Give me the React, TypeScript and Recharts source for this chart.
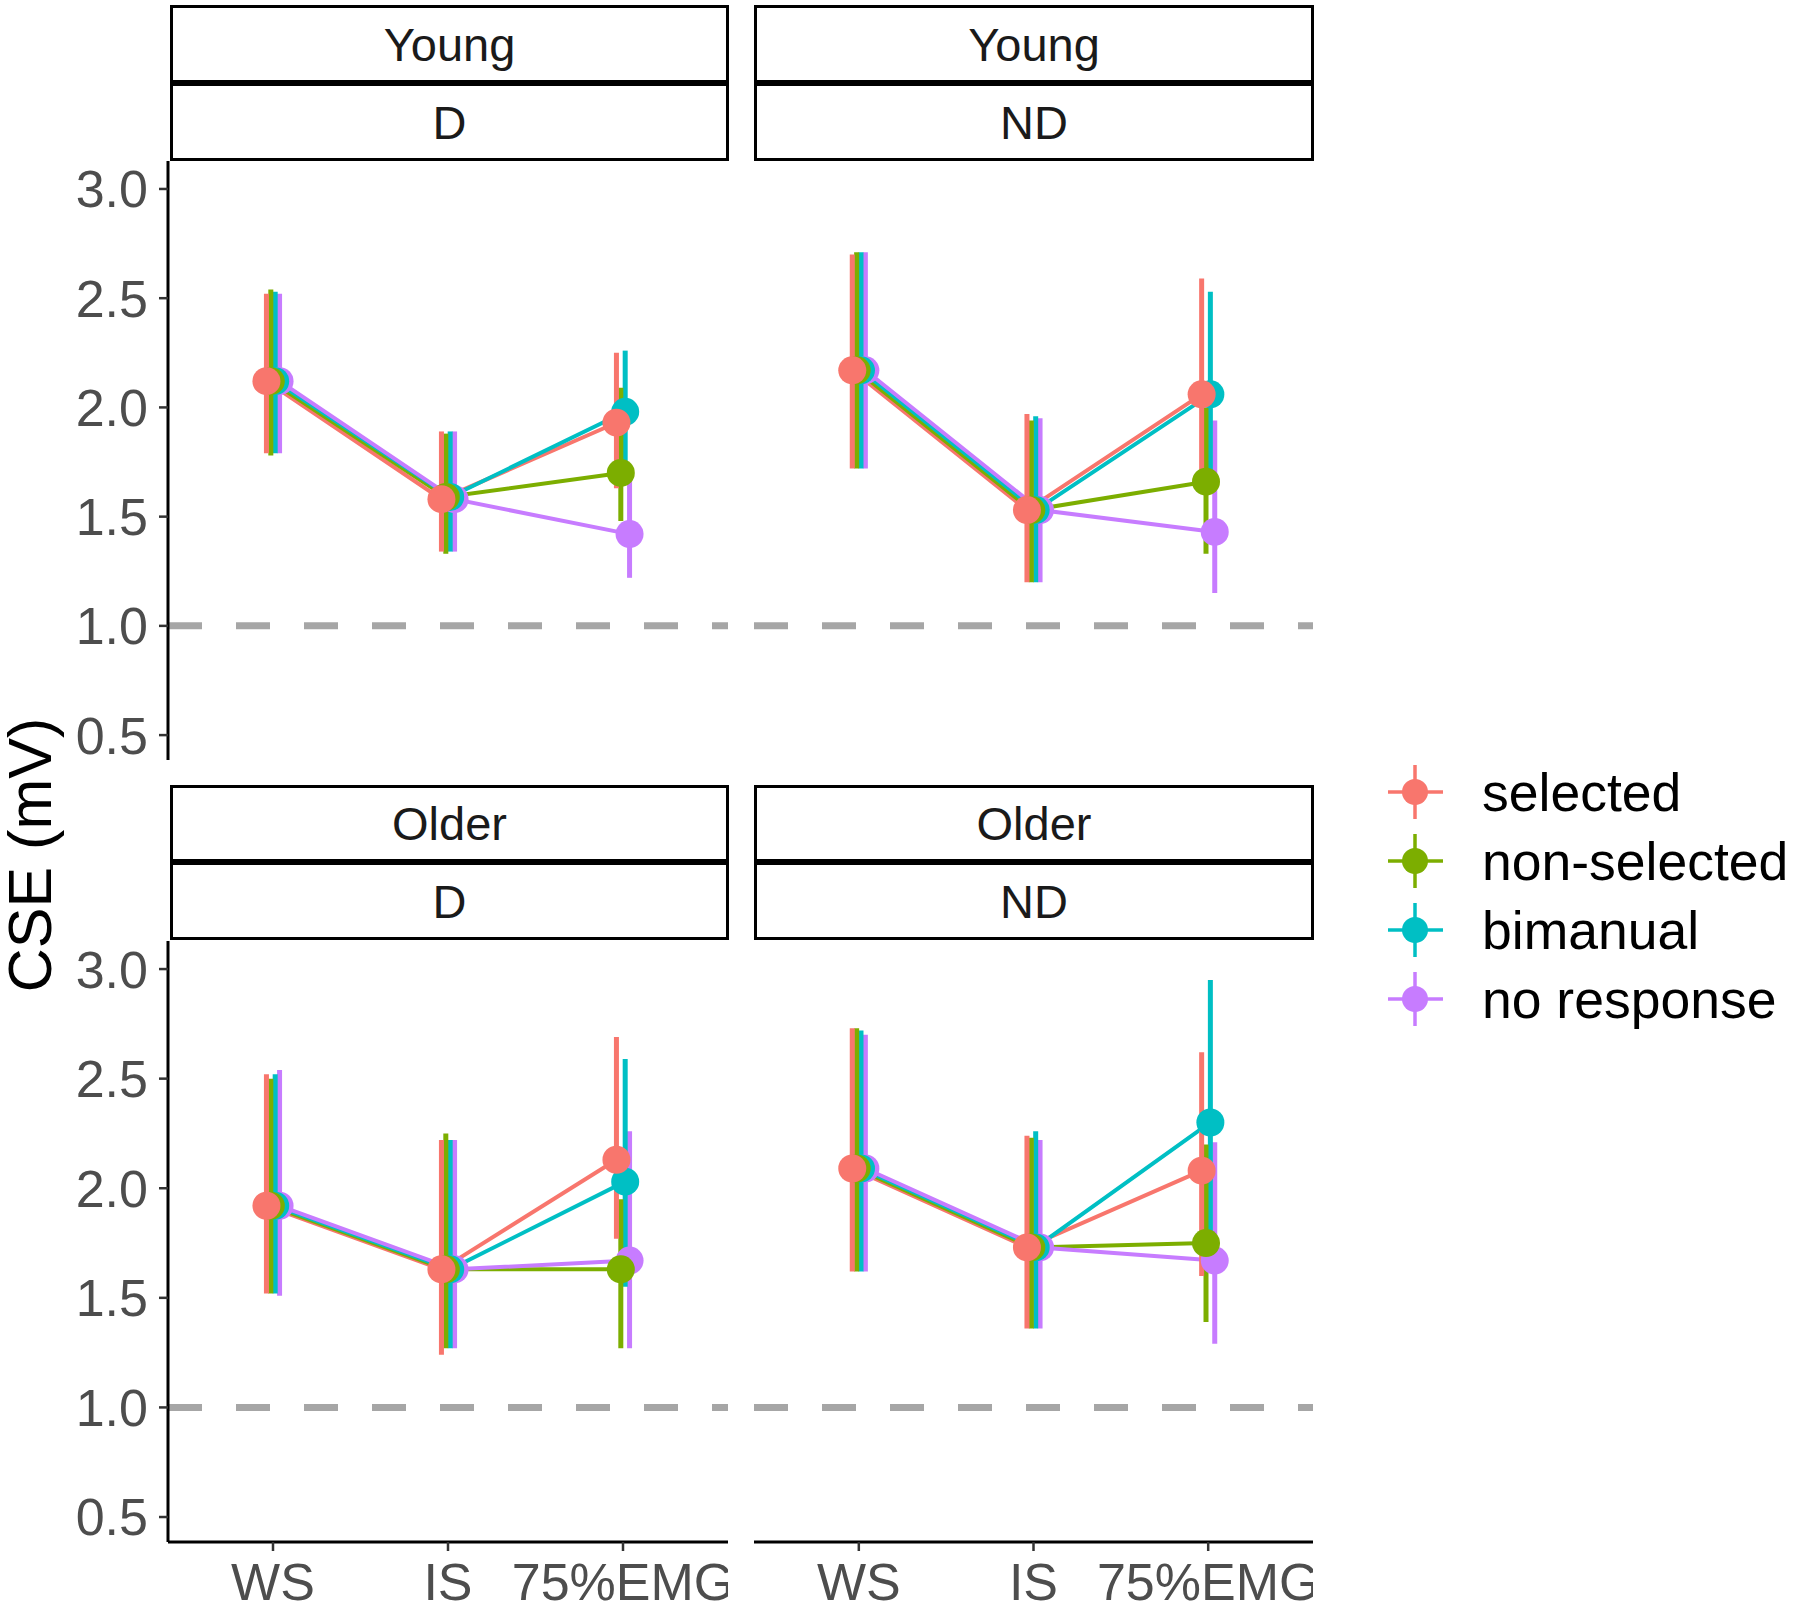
import { LineChart, Line, XAxis, YAxis, ErrorBar, ReferenceLine } from 'recharts';

const conditions = ['WS', 'IS', '75%EMG'];
const responseTypes = ['selected', 'non-selected', 'bimanual', 'no response'];
const responseColors = ['#F8766D', '#7CAE00', '#00BFC4', '#C77CFF'];
const yTicks = [0.5, 1.0, 1.5, 2.0, 2.5, 3.0];

// rows: selected, non-selected, bimanual, no response; columns: WS, IS, 75%EMG
const youngDMean = [[2.12, 1.58, 1.93], [2.12, 1.59, 1.70], [2.12, 1.59, 1.98], [2.12, 1.58, 1.42]];
const youngDLower = [[1.79, 1.34, 1.63], [1.78, 1.33, 1.48], [1.79, 1.34, 1.72], [1.79, 1.34, 1.22]];
const youngDUpper = [[2.52, 1.89, 2.25], [2.54, 1.88, 2.09], [2.53, 1.89, 2.26], [2.52, 1.89, 1.67]];

const youngNDMean = [[2.17, 1.53, 2.06], [2.17, 1.53, 1.66], [2.17, 1.53, 2.06], [2.17, 1.53, 1.43]];
const youngNDLower = [[1.72, 1.20, 1.65], [1.72, 1.20, 1.33], [1.72, 1.20, 1.62], [1.72, 1.20, 1.15]];
const youngNDUpper = [[2.70, 1.97, 2.59], [2.71, 1.94, 2.00], [2.71, 1.96, 2.53], [2.71, 1.95, 1.94]];

const olderDMean = [[1.92, 1.63, 2.13], [1.92, 1.63, 1.63], [1.92, 1.63, 2.03], [1.92, 1.63, 1.67]];
const olderDLower = [[1.52, 1.24, 1.77], [1.52, 1.27, 1.27], [1.52, 1.27, 1.55], [1.51, 1.27, 1.27]];
const olderDUpper = [[2.52, 2.22, 2.69], [2.50, 2.25, 1.95], [2.52, 2.22, 2.59], [2.54, 2.22, 2.26]];

const olderNDMean = [[2.09, 1.73, 2.08], [2.09, 1.73, 1.75], [2.09, 1.73, 2.30], [2.09, 1.73, 1.67]];
const olderNDLower = [[1.62, 1.36, 1.60], [1.62, 1.36, 1.39], [1.62, 1.36, 1.70], [1.62, 1.36, 1.29]];
const olderNDUpper = [[2.73, 2.24, 2.62], [2.73, 2.23, 2.20], [2.72, 2.26, 2.95], [2.70, 2.22, 2.21]];

const FONT = '"Liberation Sans", Arial, sans-serif';
const dodge = [-0.0375, -0.0125, 0.0125, 0.0375];

const buildSeries = (mean: number[][], lower: number[][], upper: number[][]) =>
  responseTypes.map((name, s) => ({
    name,
    color: responseColors[s],
    data: conditions.map((_, i) => ({
      x: i + 1 + dodge[s],
      y: mean[s][i],
      err: [mean[s][i] - lower[s][i], upper[s][i] - mean[s][i]],
    })),
  }));

type PanelProps = {
  mean: number[][];
  lower: number[][];
  upper: number[][];
  left: number;
  top: number;
  width: number;
  height: number;
  showX: boolean;
  showY: boolean;
};

const Panel = ({ mean, lower, upper, left, top, width, height, showX, showY }: PanelProps) => {
  const series = buildSeries(mean, lower, upper);
  // lines: purple ends up on top; points: red ends up on top (as in the original)
  const reversed = [...series].reverse();
  return (
    <div style={{ position: 'absolute', left, top }}>
      <LineChart
        width={width}
        height={showX ? height : height + 24}
        margin={{ top: 0, right: 0, bottom: showX ? 0 : 24, left: 0 }}
      >
        <XAxis
          type="number"
          dataKey="x"
          domain={[0.4, 3.6]}
          ticks={[1, 2, 3]}
          allowDataOverflow
          tickFormatter={(v) => conditions[Math.round(v) - 1]}
          hide={!showX}
          height={64}
          axisLine={{ stroke: '#000', strokeWidth: 3 }}
          tickLine={{ stroke: '#333', strokeWidth: 2.5 }}
          tickSize={9}
          tickMargin={12}
          tick={{ fill: '#4D4D4D', fontSize: 52, fontFamily: FONT }}
          interval={0}
        />
        <YAxis
          type="number"
          domain={[0.386, 3.128]}
          ticks={yTicks}
          allowDataOverflow
          tickFormatter={(v) => v.toFixed(1)}
          hide={!showY}
          width={168}
          axisLine={{ stroke: '#000', strokeWidth: 3 }}
          tickLine={{ stroke: '#333', strokeWidth: 2.5 }}
          tickSize={9}
          tickMargin={11}
          tick={{ fill: '#4D4D4D', fontSize: 52, fontFamily: FONT }}
          interval={0}
        />
        <ReferenceLine y={1} stroke="#A6A6A6" strokeWidth={7} strokeDasharray="34 34" />
        {series.map((s) => (
          <Line
            key={'line-' + s.name}
            data={s.data}
            dataKey="y"
            type="linear"
            stroke={s.color}
            strokeWidth={4}
            dot={false}
            activeDot={false}
            isAnimationActive={false}
          />
        ))}
        {reversed.map((s) => (
          <Line
            key={'pt-' + s.name}
            data={s.data}
            dataKey="y"
            type="linear"
            stroke="none"
            strokeWidth={0}
            dot={{ r: 14, fill: s.color, stroke: 'none' }}
            activeDot={false}
            isAnimationActive={false}
          >
            <ErrorBar dataKey="err" width={0} stroke={s.color} strokeWidth={5} direction="y" />
          </Line>
        ))}
      </LineChart>
    </div>
  );
};

const Strip = ({ left, top, width, height, label }: { left: number; top: number; width: number; height: number; label: string }) => (
  <div
    style={{
      position: 'absolute',
      left,
      top,
      width: width - 6,
      height: height - 6,
      border: '3px solid #000',
      background: '#fff',
      display: 'flex',
      alignItems: 'center',
      justifyContent: 'center',
      fontFamily: FONT,
      fontSize: 47,
      color: '#1A1A1A',
    }}
  >
    {label}
  </div>
);

const LegendBox = () => (
  <svg width={420} height={300} style={{ position: 'absolute', left: 1380, top: 755 }}>
    {responseTypes.map((name, i) => {
      const cy = 37 + i * 69;
      return (
        <g key={name}>
          <line x1={8} x2={63} y1={cy} y2={cy} stroke={responseColors[i]} strokeWidth={3.5} />
          <line x1={35} x2={35} y1={cy - 27} y2={cy + 27} stroke={responseColors[i]} strokeWidth={3.5} />
          <circle cx={35} cy={cy} r={13} fill={responseColors[i]} />
          <text x={102} y={cy} dy="0.36em" fontSize={53.5} fontFamily={FONT} fill="#000">
            {name}
          </text>
        </g>
      );
    })}
  </svg>
);

export default function App() {
  return (
    <div style={{ position: 'absolute', left: 0, top: 0, width: 1800, height: 1606, background: '#fff', overflow: 'hidden' }}>
      <Strip left={170} top={5} width={559} height={78} label="Young" />
      <Strip left={170} top={83} width={559} height={78} label="D" />
      <Strip left={754} top={5} width={560} height={78} label="Young" />
      <Strip left={754} top={83} width={560} height={78} label="ND" />

      <Strip left={170} top={785} width={559} height={77} label="Older" />
      <Strip left={170} top={862} width={559} height={78} label="D" />
      <Strip left={754} top={785} width={560} height={77} label="Older" />
      <Strip left={754} top={862} width={560} height={78} label="ND" />

      <Panel mean={youngDMean} lower={youngDLower} upper={youngDUpper} left={0} top={161} width={728} height={599} showX={false} showY />
      <Panel mean={youngNDMean} lower={youngNDLower} upper={youngNDUpper} left={754} top={161} width={559} height={599} showX={false} showY={false} />
      <Panel mean={olderDMean} lower={olderDLower} upper={olderDUpper} left={0} top={941} width={728} height={665} showX showY />
      <Panel mean={olderNDMean} lower={olderNDLower} upper={olderNDUpper} left={754} top={941} width={559} height={665} showX showY={false} />

      <svg width={80} height={1606} style={{ position: 'absolute', left: 0, top: 0 }}>
        <text
          x={0}
          y={0}
          transform="translate(51, 855) rotate(-90)"
          textAnchor="middle"
          fontSize={61}
          fontFamily={FONT}
          fill="#000"
        >
          CSE (mV)
        </text>
      </svg>

      <LegendBox />
    </div>
  );
}
